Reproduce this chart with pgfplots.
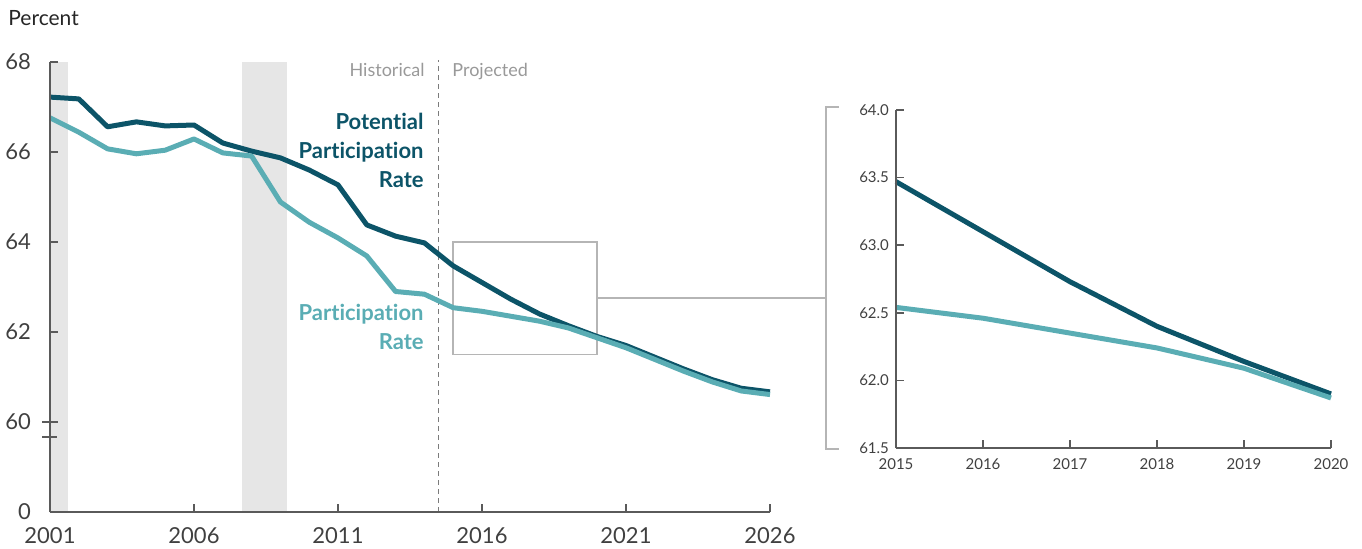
\documentclass[border=0pt]{standalone}
\usepackage{pgfplots}
\pgfplotsset{compat=1.18}
\usepackage{fontspec}
\setmainfont{Lato}[Ligatures={NoCommon,NoRequired,NoDiscretionary}]

\definecolor{potdark}{HTML}{0C5468}
\definecolor{partlight}{HTML}{5AADB4}
\definecolor{recgray}{HTML}{E6E6E6}
\definecolor{axisgray}{HTML}{5A5A5A}
\definecolor{labelgray}{HTML}{404040}
\definecolor{rectgray}{HTML}{B5B5B5}
\definecolor{notegray}{HTML}{999999}

\pgfplotsset{
  cboaxis/.style={
    scale only axis,
    axis lines=left,
    axis line style={-, draw=axisgray, line width=0.8pt},
    tick style={draw=axisgray, line width=0.8pt},
    tick align=inside,
    major tick length=4pt,
    ticklabel style={text=labelgray},
    clip=false,
    axis on top,
  },
}

\begin{document}
\begin{tikzpicture}
\path[use as bounding box] (0,0) rectangle (681pt,274pt);

% main chart
\begin{axis}[cboaxis,
    at={(25pt,18pt)}, anchor=south west,
    width=360pt, height=225pt,
    xmin=2001, xmax=2026, ymin=58, ymax=68,
    xtick={2001,2006,2011,2016,2021,2026},
    xticklabels={2001,2006,2011,2016,2021,2026},
    ytick={58,60,62,64,66,68},
    yticklabels={0,60,62,64,66,68},
    ticklabel style={font=\fontsize{11}{13}\selectfont},
    yticklabel style={xshift=-6pt},
    xticklabel style={yshift=-4pt},
]
% recessions
\addplot[fill=recgray, draw=none] coordinates {(2001,58) (2001.625,58) (2001.625,68) (2001,68)};
\addplot[fill=recgray, draw=none] coordinates {(2007.67,58) (2009.23,58) (2009.23,68) (2007.67,68)};
% historical / projected divider
\addplot[draw=axisgray!80, line width=0.6pt, dash pattern=on 2.5pt off 2pt] coordinates {(2014.5,58) (2014.5,68.05)};
% zoom box
\addplot[draw=rectgray, line width=0.75pt] coordinates {(2015,61.5) (2020,61.5) (2020,64) (2015,64) (2015,61.5)};

\addplot[potdark, line width=2.5pt, line join=round] coordinates {
 (2001,67.22) (2002,67.18) (2003,66.56) (2004,66.67) (2005,66.58) (2006,66.60)
 (2007,66.20) (2008,66.02) (2009,65.87) (2010,65.60) (2011,65.27) (2012,64.38)
 (2013,64.13) (2014,63.98) (2015,63.47) (2016,63.10) (2017,62.73) (2018,62.40)
 (2019,62.14) (2020,61.90) (2021,61.70) (2022,61.44) (2023,61.18) (2024,60.94)
 (2025,60.75) (2026,60.67)
};
\addplot[partlight, line width=2.5pt, line join=round] coordinates {
 (2001,66.76) (2002,66.44) (2003,66.07) (2004,65.96) (2005,66.04) (2006,66.29)
 (2007,65.98) (2008,65.91) (2009,64.89) (2010,64.44) (2011,64.09) (2012,63.69)
 (2013,62.90) (2014,62.84) (2015,62.54) (2016,62.46) (2017,62.35) (2018,62.24)
 (2019,62.09) (2020,61.87) (2021,61.65) (2022,61.39) (2023,61.13) (2024,60.89)
 (2025,60.69) (2026,60.61)
};
% axis break marks
\draw[axisgray, line width=0.8pt] ([xshift=-3.75pt]axis cs:2001,60) -- ([xshift=3.75pt]axis cs:2001,60);
\draw[axisgray, line width=0.8pt] ([xshift=-3.75pt]axis cs:2001,59.667) -- ([xshift=3.75pt]axis cs:2001,59.667);
\end{axis}

% inset
\begin{axis}[cboaxis,
    at={(448pt,50pt)}, anchor=south west,
    width=217.5pt, height=169pt,
    xmin=2015, xmax=2020, ymin=61.5, ymax=64,
    xtick={2015,2016,2017,2018,2019,2020},
    xticklabels={2015,2016,2017,2018,2019,2020},
    ytick={61.5,62,62.5,63,63.5,64},
    yticklabels={61.5,62.0,62.5,63.0,63.5,64.0},
    ticklabel style={font=\fontsize{7.5}{9}\selectfont},
    xticklabel style={yshift=-2pt},
]
\addplot[potdark, line width=2.5pt, line join=round] coordinates {
 (2015,63.47) (2016,63.10) (2017,62.73) (2018,62.40) (2019,62.14) (2020,61.90)
};
\addplot[partlight, line width=2.5pt, line join=round] coordinates {
 (2015,62.54) (2016,62.46) (2017,62.35) (2018,62.24) (2019,62.09) (2020,61.87)
};
\end{axis}

% connector and bracket
\draw[rectgray, line width=0.75pt] (299pt,125pt) -- (413pt,125pt);
\draw[rectgray, line width=0.75pt] (419.5pt,220.5pt) -- (413pt,220.5pt) -- (413pt,49.5pt) -- (419.5pt,49.5pt);

% texts
\node[anchor=base west, inner sep=0, font=\fontsize{10.5}{12}\selectfont, text=black!85] at (4pt,261.5pt) {Percent};
\node[anchor=base east, inner sep=0, font=\fontsize{9}{11}\selectfont, text=notegray] at (212.5pt,236pt) {Historical};
\node[anchor=base west, inner sep=0, font=\fontsize{9}{11}\selectfont, text=notegray] at (226pt,236pt) {Projected};

\begin{scope}[every node/.style={anchor=base east, inner sep=0, font=\bfseries\fontsize{11}{13}\selectfont}]
\node[text=potdark] at (212pt,209.25pt) {Potential};
\node[text=potdark] at (212pt,194.75pt) {Participation};
\node[text=potdark] at (212pt,180.25pt) {Rate};
\node[text=partlight] at (212pt,114pt) {Participation};
\node[text=partlight] at (212pt,99.5pt) {Rate};
\end{scope}
\end{tikzpicture}
\end{document}
